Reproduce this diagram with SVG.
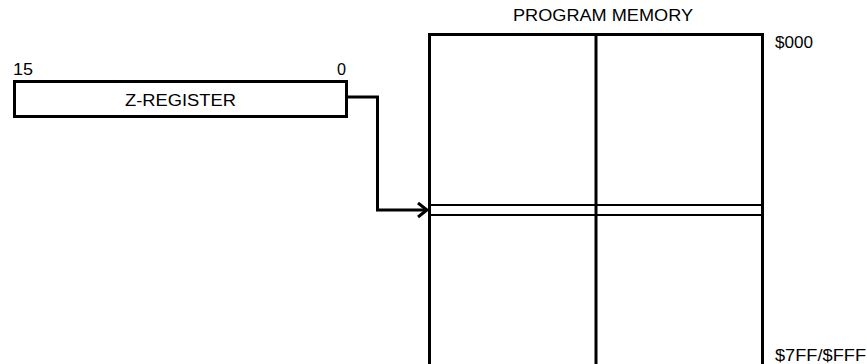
<svg xmlns="http://www.w3.org/2000/svg" width="867" height="364" viewBox="0 0 867 364">
<style>
text{font-family:"Liberation Sans",Arial,sans-serif;font-size:16px;fill:#000}
.box{fill:#fff;stroke:#000;stroke-width:3}
.thin{stroke:#000;stroke-width:2;fill:none}
.conn{stroke:#000;stroke-width:3;fill:none}
</style>
<rect width="867" height="364" fill="#fff"/>
<g id="memory">
<text x="513" y="21" textLength="180" lengthAdjust="spacingAndGlyphs">PROGRAM MEMORY</text>
<path class="box" d="M429.5,366 V34.5 H762.5 V366"/>
<line class="conn" x1="596" y1="34" x2="596" y2="366"/>
<line class="thin" x1="429" y1="205" x2="762" y2="205"/>
<line class="thin" x1="429" y1="215" x2="762" y2="215"/>
<text x="775" y="48" textLength="38" lengthAdjust="spacingAndGlyphs">$000</text>
<text x="775" y="361" textLength="91" lengthAdjust="spacingAndGlyphs">$7FF/$FFF</text>
</g>
<g id="zreg">
<text x="13" y="75" textLength="20" lengthAdjust="spacingAndGlyphs">15</text>
<text x="337" y="75" textLength="9" lengthAdjust="spacingAndGlyphs">0</text>
<rect class="box" x="14.5" y="81.5" width="332" height="35"/>
<text x="125" y="106" textLength="111" lengthAdjust="spacingAndGlyphs">Z-REGISTER</text>
</g>
<g id="connectors">
<polyline class="conn" points="346,97 377.5,97 377.5,210 427,210"/>
<polyline class="conn" points="418,203 427,210 418,217"/>
</g>
</svg>
